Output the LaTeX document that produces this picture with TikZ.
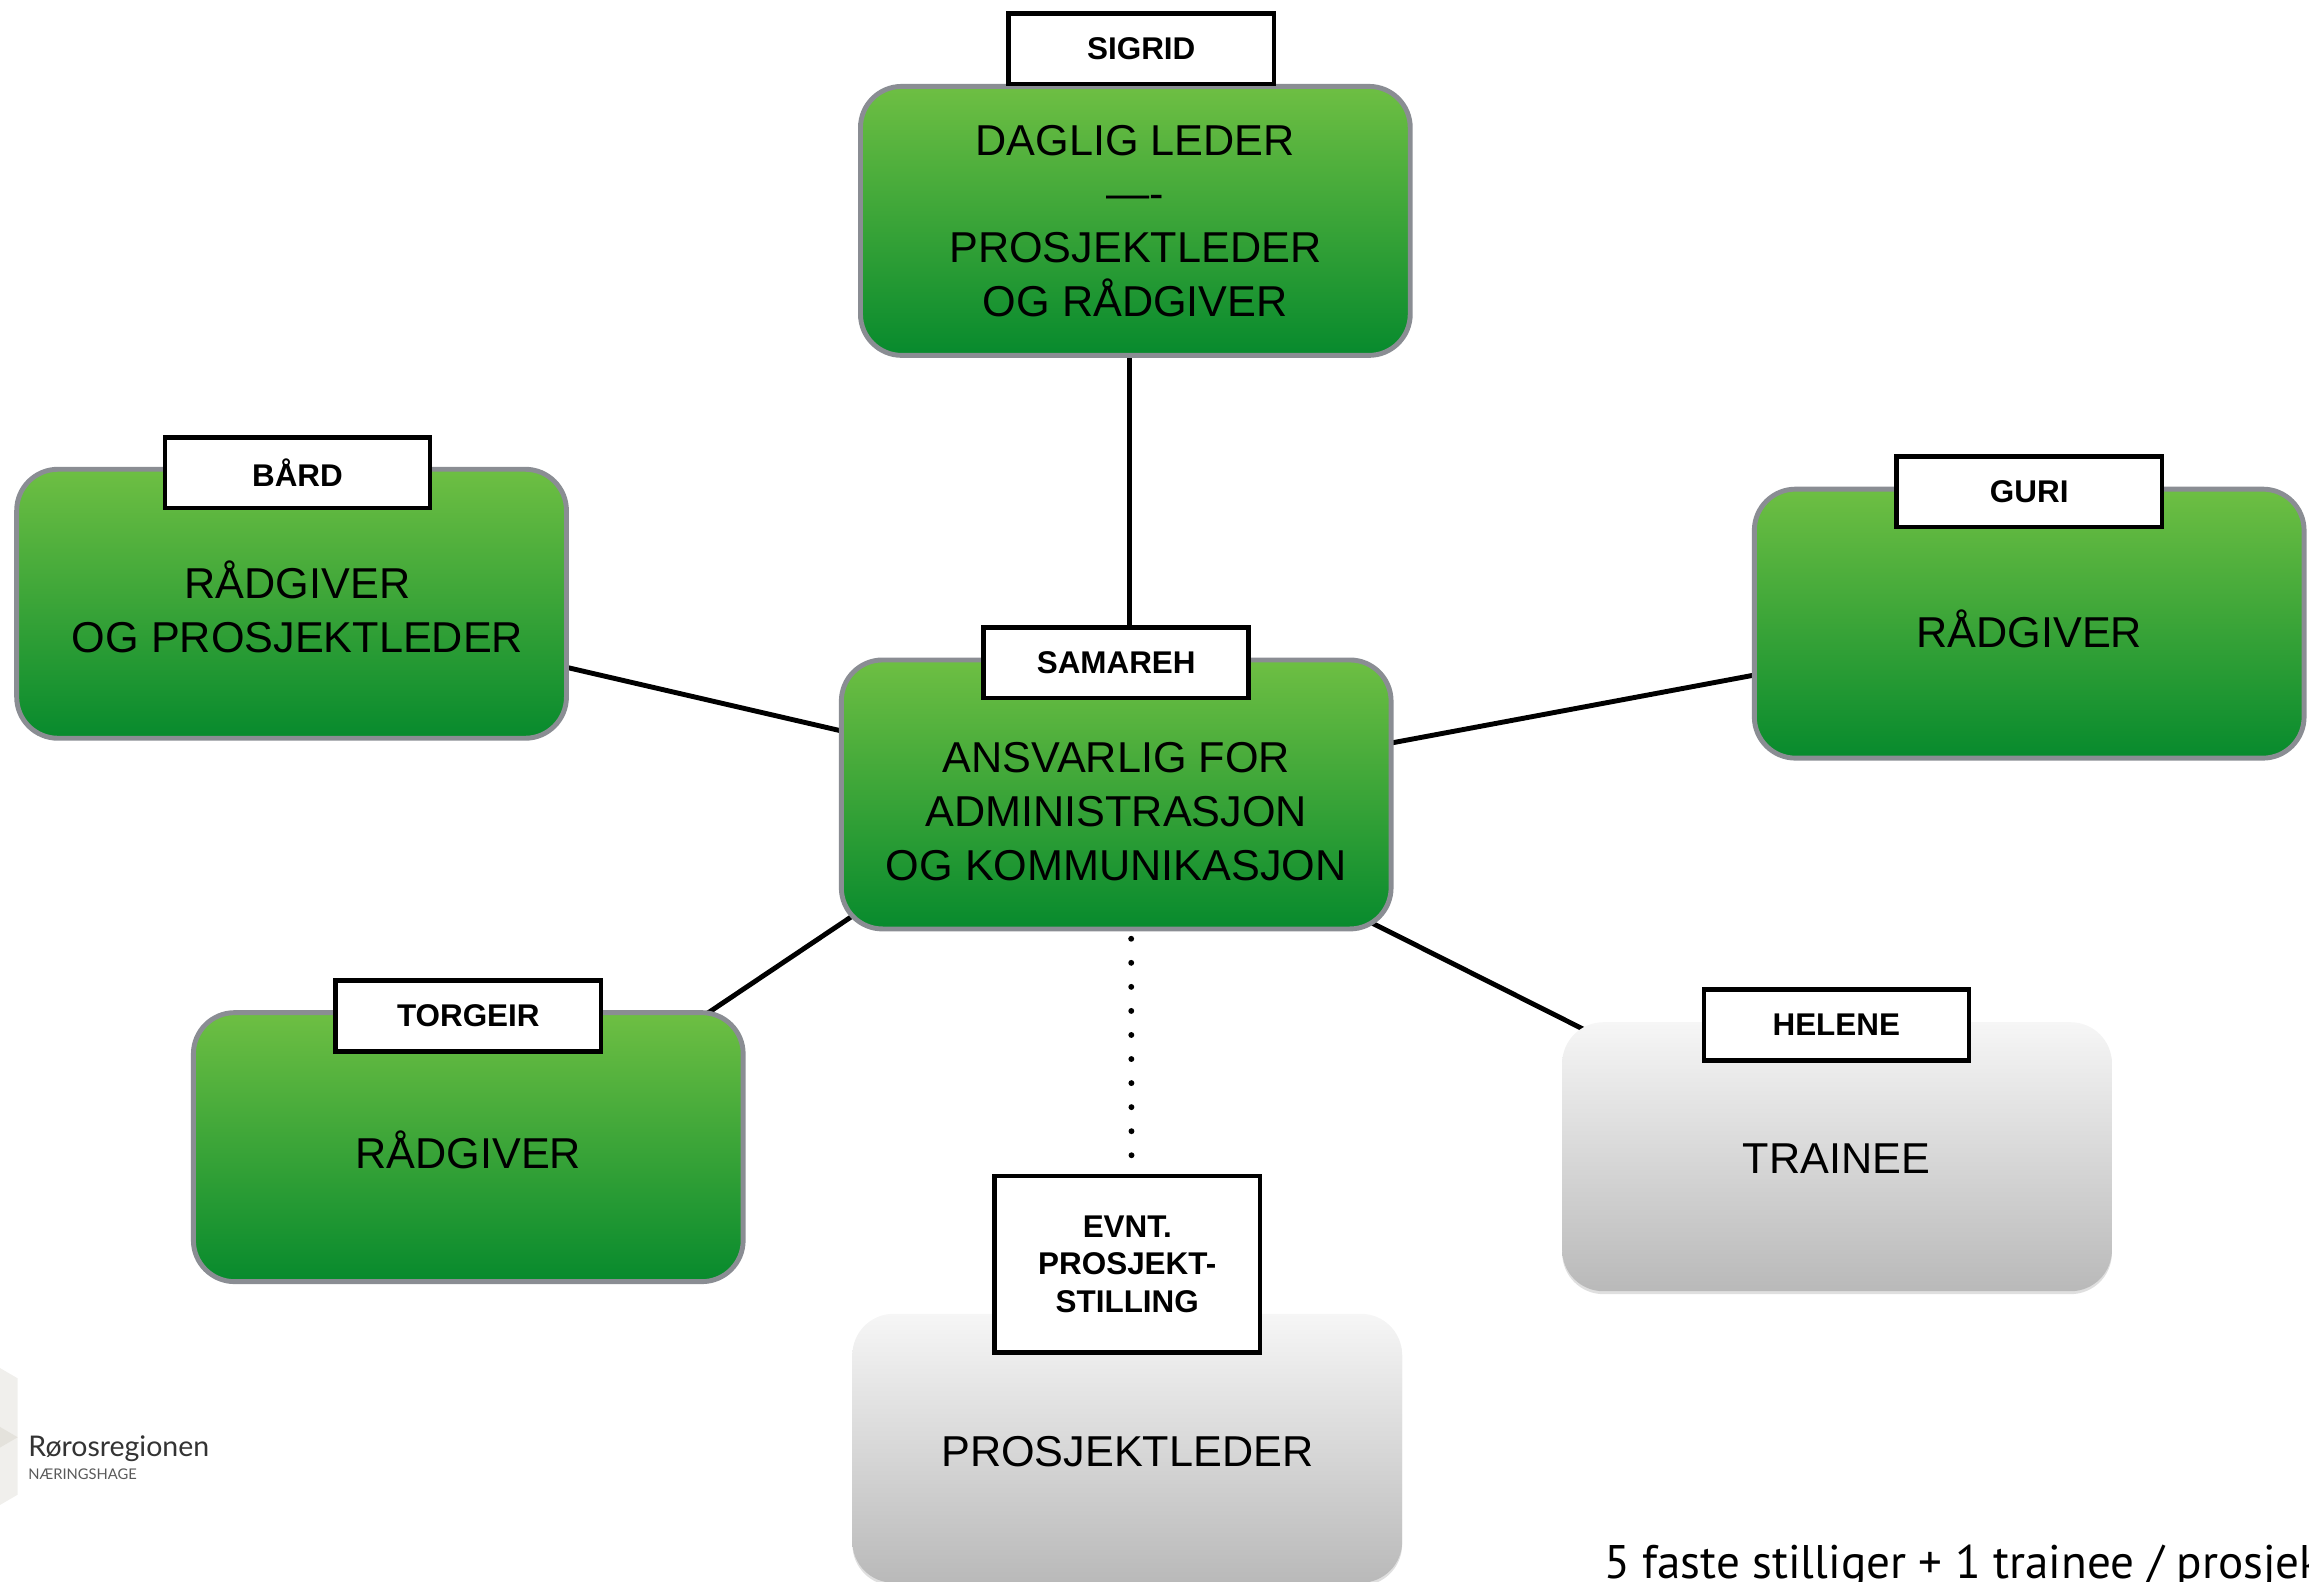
\documentclass[tikz,border=0pt]{standalone}
\usepackage{fontspec}
\setmainfont{Liberation Sans}
\newfontfamily\notefont{PT Sans}
\newfontfamily\logofont{Lato}
\usetikzlibrary{backgrounds,shadows}

\definecolor{boxtop}{HTML}{6EBF43}
\definecolor{boxbottom}{HTML}{078A2D}
\definecolor{boxedge}{HTML}{8A8D93}
\definecolor{palebox}{HTML}{F6F6F6}
\definecolor{darkbox}{HTML}{B9B9B9}
\definecolor{logopale}{HTML}{F0EFEC}
\definecolor{logodark}{HTML}{E4E2DC}

\tikzset{
  greenbox/.style={rectangle,rounded corners=21pt,minimum width=280pt,minimum height=137pt,top color=boxtop,bottom color=boxbottom,draw=boxedge,line width=2.5pt},
  greybox/.style={rectangle,rounded corners=21pt,minimum width=280pt,minimum height=137pt,top color=palebox,bottom color=darkbox,drop shadow={shadow xshift=0pt,shadow yshift=-1.5pt,opacity=0.25}},
  namebox/.style={rectangle,draw=black,line width=2.3pt,fill=white,minimum width=135pt,minimum height=36pt,align=center,font=\fontsize{16}{19}\selectfont\bfseries,drop shadow={shadow xshift=0.8pt,shadow yshift=-0.8pt,opacity=0.3}},
  bodytext/.style={align=center,font=\fontsize{22}{27.4}\selectfont},
  link/.style={line width=2.5pt}
}

\begin{document}
\begin{tikzpicture}[x=0.75pt,y=-0.75pt]
  \useasboundingbox[clip] (0,0) rectangle (1568,1074);

  % logo
  \fill[logopale] (0,929) -- (12,936) -- (12,1015) -- (0,1022) -- cycle;
  \fill[logodark] (0,969) -- (12,976) -- (0,983) -- cycle;
  \node[anchor=base west,inner sep=0pt,text=black!80] (logoname) at (19,989) {\logofont\fontsize{14.5}{16}\selectfont Rørosregionen};
  \node[anchor=base west,inner sep=0pt,text=black!65] (logosub) at (19,1005) {\logofont\fontsize{7.5}{9}\selectfont NÆRINGSHAGE};

  % boxes
  \node[greenbox] (sigrid) at (771,150) {};
  \node[greenbox] (bard) at (198,410) {};
  \node[greenbox] (guri) at (1378,423.5) {};
  \node[greenbox] (samareh) at (758,539.5) {};
  \node[greenbox] (torgeir) at (318,779) {};
  \node[greybox] (helene) at (1247.5,785.5) {};
  \node[greybox] (evnt) at (765.5,983.5) {};

  % job titles
  \node[bodytext] (sigridtext) at (771,150) {DAGLIG LEDER\\—-\\PROSJEKTLEDER\\OG RÅDGIVER};
  \node[bodytext] (bardtext) at (202,412) {RÅDGIVER\\OG PROSJEKTLEDER};
  \node[bodytext] (guritext) at (1378,427) {RÅDGIVER};
  \node[bodytext] (samarehtext) at (758,551) {ANSVARLIG FOR\\ADMINISTRASJON\\OG KOMMUNIKASJON};
  \node[bodytext] (torgeirtext) at (318,781) {RÅDGIVER};
  \node[bodytext] (helenetext) at (1247,787) {TRAINEE};
  \node[bodytext] (evnttext) at (765.5,986) {PROSJEKTLEDER};

  % names
  \node[namebox] (sigridname) at (775,33) {SIGRID};
  \node[namebox] (bardname) at (202,321) {BÅRD};
  \node[namebox] (guriname) at (1378,334) {GURI};
  \node[namebox] (samarehname) at (758,450) {SAMAREH};
  \node[namebox] (torgeirname) at (318,690) {TORGEIR};
  \node[namebox] (helenename) at (1247,696) {HELENE};
  \node[namebox,minimum height=90pt] (evntname) at (765.5,858.5) {EVNT.\\PROSJEKT-\\STILLING};

  % lines go behind the boxes
  \begin{scope}[on background layer]
    \draw[link] ([xshift=-3pt]sigrid.center) -- ([xshift=6.75pt]samareh.center);
    \draw[link] (samareh.center) -- (bard.center);
    \draw[link] (samareh.center) -- (guri.center);
    \draw[link] ([xshift=-42pt,yshift=0pt]samareh.center) -- ([yshift=-13.5pt]torgeir.center);
    \draw[link] (samareh.center) -- (helene.center);
    \draw[line width=3pt,line cap=round,dash pattern=on 0pt off 12.25pt] ([xshift=7.5pt]samareh.center) -- ([xshift=2.25pt]evntname.center);
  \end{scope}

  \node[anchor=base west,inner sep=0pt] (note) at (1089,1072) {\notefont\fontsize{24}{28}\selectfont 5 faste stilliger + 1 trainee / prosjekt};
\end{tikzpicture}
\end{document}
